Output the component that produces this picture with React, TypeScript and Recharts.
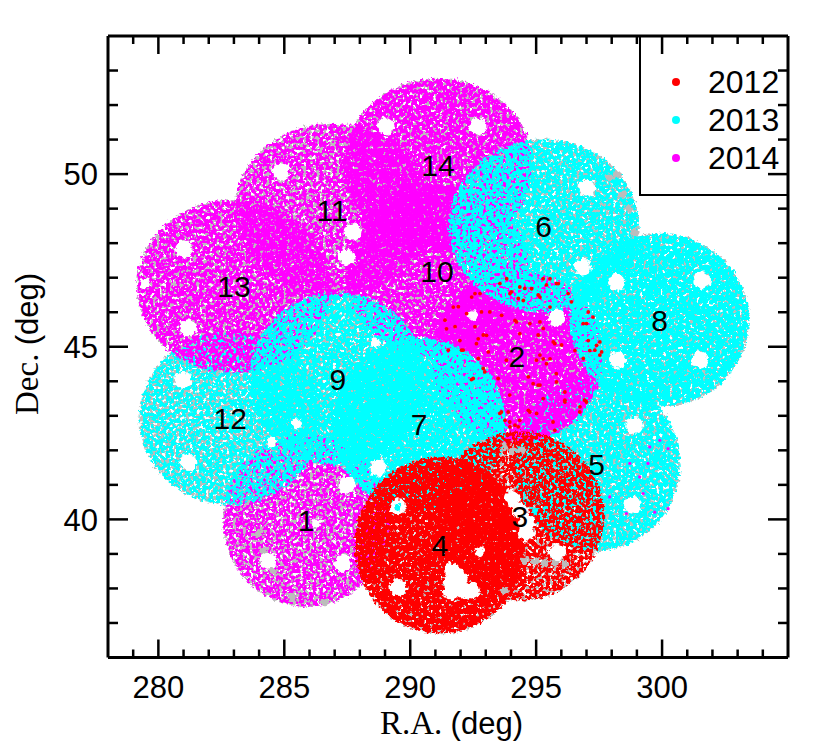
import { Legend, Scatter, ScatterChart, XAxis, YAxis } from "recharts";

const fieldNames = ["5", "1", "12", "2", "10", "11", "13", "14", "9", "7", "6", "8", "4", "3"];
const fieldRa = [297.4, 285.87, 282.85, 294.23, 291.06, 286.9, 283.0, 291.1, 287.13, 290.35, 295.3, 299.9, 291.18, 294.35];
const fieldDec = [41.6, 39.97, 42.93, 44.72, 47.2, 48.96, 46.75, 50.26, 44.06, 42.75, 48.5, 45.77, 39.25, 40.1];
const fieldRadiusRa = [3.3, 3.3, 3.6, 3.4, 3.65, 3.85, 3.85, 3.75, 3.5, 3.45, 3.77, 3.55, 3.38, 3.35];
const fieldRadiusDec = [2.5, 2.5, 2.5, 2.5, 2.5, 2.5, 2.5, 2.5, 2.5, 2.5, 2.5, 2.5, 2.55, 2.45];
const fieldYear = [2013, 2014, 2013, 2014, 2014, 2014, 2014, 2014, 2013, 2013, 2013, 2013, 2012, 2012];

const holes = [
  [289.04, 51.39], [292.69, 51.39], [284.87, 50.06], [287.73, 48.32], [287.49, 47.59],
  [281.02, 47.83], [281.18, 45.54], [297.01, 49.59], [296.85, 47.3], [298.2, 46.87],
  [301.57, 46.93], [298.24, 44.61], [301.5, 44.61], [295.82, 45.83], [280.98, 44.03],
  [281.18, 41.65], [288.72, 41.48], [287.49, 40.99], [284.35, 38.81], [287.33, 38.72],
  [289.51, 38.03], [295.82, 39.04], [298.91, 42.72], [298.83, 40.41],
];
const smallHoles = [
  [279.47, 46.84], [292.49, 45.91], [288.6, 45.1], [285.5, 42.78], [284.51, 42.23],
  [286.3, 39.88], [292.76, 39.04],
];
const largeGaps = [
  [294.07, 40.61], [294.35, 40.26], [294.63, 39.91], [294.63, 39.62],
  [291.66, 38.52], [291.61, 38.17], [291.65, 37.91], [292.05, 37.94], [292.45, 37.94], [291.97, 38.29],
  [289.51, 40.35],
];
const cyanInGaps = [[294.98, 40.26], [289.51, 40.35]];
const greyPatches = [
  [294.55, 38.81], [294.95, 38.78], [295.34, 38.75], [295.74, 38.75], [296.13, 38.72], [293.75, 37.93],
  [293.75, 42.12], [294.05, 41.98], [294.45, 42.02], [297.9, 49.9], [298.4, 49.4], [298.7, 49.0],
  [298.2, 50.0], [298.9, 48.3], [284.0, 39.6], [284.2, 39.1], [284.55, 38.5], [285.3, 37.75], [286.6, 37.6],
];

const red2012 = [
  [293.56, 46.83], [293.83, 46.97], [294.35, 46.73], [294.82, 46.68], [295.28, 46.97], [295.55, 46.97],
  [295.88, 46.83], [296.27, 46.54], [296.4, 46.3], [295.55, 46.15], [295.15, 46.44], [294.49, 46.34],
  [293.96, 46.54], [292.77, 46.54], [292.44, 46.44], [291.71, 46.15], [293.63, 45.91], [294.16, 45.76],
  [294.75, 45.67], [294.35, 45.38], [292.7, 45.23], [293.03, 45.33], [291.44, 45.52], [291.97, 45.18],
  [295.74, 45.09], [295.28, 44.65], [295.55, 44.65], [297.0, 45.67], [297.26, 45.86], [297.07, 45.18],
  [297.4, 45.04], [297.6, 44.85], [297.13, 44.89], [296.54, 44.89], [292.1, 44.9], [292.63, 45.09],
  [292.96, 44.27], [292.43, 44.05], [293.82, 44.61], [295.01, 44.61], [295.41, 44.51], [295.8, 44.22],
  [294.88, 43.93], [295.08, 43.89], [293.95, 43.6], [293.62, 43.11], [293.95, 42.82], [294.29, 42.68],
  [293.76, 42.87], [294.75, 43.11], [295.28, 43.5], [296.14, 43.45], [296.93, 43.45], [296.73, 43.11],
  [295.67, 42.82], [294.62, 42.39],
  [294.02, 46.59], [294.55, 46.69], [295.08, 46.5], [295.41, 46.79], [295.81, 46.83], [294.29, 46.4],
  [292.57, 46.54], [291.91, 46.16], [292.83, 46.01], [293.16, 46.01], [292.24, 45.96], [291.38, 45.77],
  [291.78, 45.58], [292.57, 45.58], [292.9, 45.34], [294.22, 45.72], [295.15, 45.72], [295.28, 45.53],
  [295.08, 45.34], [295.68, 45.14], [296.01, 45.05], [297.07, 46.01], [296.87, 45.67], [297.53, 45.14],
  [297.33, 44.9], [297.53, 44.76], [296.87, 44.66], [292.04, 44.9], [291.51, 44.9], [293.1, 44.85],
  [292.7, 44.66], [292.9, 44.37], [292.5, 44.08], [293.49, 44.08], [294.69, 44.13], [295.15, 44.76],
  [295.15, 43.89], [295.81, 43.98], [296.14, 43.69], [297.0, 43.4], [296.74, 43.26], [296.14, 43.4],
  [295.02, 43.07], [293.56, 43.07], [293.89, 43.11], [294.16, 42.73], [293.96, 42.68], [294.35, 42.87],
  [294.69, 43.16], [295.74, 42.58], [294.55, 42.34], [294.75, 42.29], [293.89, 42.18],
];
const magenta2014 = [
  [298.72, 41.62], [299.11, 41.23], [299.44, 41.62], [299.91, 42.29], [300.24, 42.05], [299.51, 42.1],
  [298.58, 40.17], [299.71, 40.21], [300.24, 40.31], [299.25, 40.75], [297.92, 40.65],
];

const legendYears = [2012, 2013, 2014];
const xTicks = [279, 280, 281, 282, 283, 284, 285, 286, 287, 288, 289, 290, 291, 292, 293, 294, 295, 296, 297, 298, 299, 300, 301, 302, 303, 304];
const yTicks = [37, 38, 39, 40, 41, 42, 43, 44, 45, 46, 47, 48, 49, 50, 51, 52, 53];

const colors: Record<number, string> = { 2012: "#ff0000", 2013: "#00ffff", 2014: "#ff00ff" };

// how much of each field's fill survives the speckle, lower means denser
const speckle: Record<string, number> = {
  "1": 0.43, "2": 0.33, "3": 0.4, "4": 0.3, "5": 0.37, "6": 0.38, "7": 0.32,
  "8": 0.33, "9": 0.38, "10": 0.38, "11": 0.42, "12": 0.42, "13": 0.4, "14": 0.37,
};

const W = 830;
const H = 756;
const LEFT = 108;
const RIGHT = 788;
const TOP = 36;
const BOTTOM = 657.5;
const pxPerRa = (RIGHT - LEFT) / 27;
const pxPerDec = (BOTTOM - TOP) / 18;

const sans = "'Liberation Sans', Arial, sans-serif";
const serif = "'Liberation Serif', 'Times New Roman', serif";

const fields = fieldNames.map((name, i) => ({
  name,
  ra: fieldRa[i],
  dec: fieldDec[i],
  rRa: fieldRadiusRa[i],
  rDec: fieldRadiusDec[i],
  year: fieldYear[i],
}));
const toPoints = (list: number[][]) => list.map(([ra, dec]) => ({ ra, dec }));

function SpeckFilter({ id, seed, cut }: { id: string; seed: number; cut: number }) {
  const k = 14;
  return (
    <filter id={id} x="-8%" y="-8%" width="116%" height="116%" colorInterpolationFilters="sRGB">
      <feTurbulence type="fractalNoise" baseFrequency="0.3" numOctaves={2} seed={seed} result="n" />
      <feDisplacementMap in="SourceGraphic" in2="n" scale={8} xChannelSelector="G" yChannelSelector="B" result="d" />
      <feColorMatrix in="n" type="matrix" values={`0 0 0 0 0  0 0 0 0 0  0 0 0 0 0  ${k} 0 0 0 ${-k * cut}`} result="m" />
      <feComposite in="d" in2="m" operator="in" />
    </filter>
  );
}

const dot = (fill: string, r: number) => (props: any) => <circle cx={props.cx} cy={props.cy} r={r} fill={fill} />;
const roughDot = (fill: string, r: number) => (props: any) => (
  <circle cx={props.cx} cy={props.cy} r={r} fill={fill} filter="url(#rough)" />
);

const footprint = (grey: boolean) => (props: any) => {
  const f = props.payload;
  return (
    <ellipse
      cx={props.cx}
      cy={props.cy}
      rx={f.rRa * pxPerRa}
      ry={f.rDec * pxPerDec}
      fill={grey ? "#bcbcbc" : colors[f.year]}
      filter={`url(#${grey ? "grey" : "field"}-${f.name})`}
    />
  );
};

const fieldLabel = (props: any) => (
  <text x={props.cx} y={props.cy} dy="0.36em" textAnchor="middle" fontFamily={sans} fontSize={30} fill="#000">
    {props.payload.name}
  </text>
);

function BottomTick({ x, payload }: any) {
  const major = payload.value % 5 === 0;
  return (
    <g>
      <line x1={x} x2={x} y1={BOTTOM} y2={BOTTOM - (major ? 18 : 8)} stroke="#000" strokeWidth={2.5} />
      {major && (
        <text x={x} y={698} textAnchor="middle" fontFamily={sans} fontSize={31} fill="#000">
          {payload.value}
        </text>
      )}
    </g>
  );
}
function TopTick({ x, payload }: any) {
  const major = payload.value % 5 === 0;
  return <line x1={x} x2={x} y1={TOP} y2={TOP + (major ? 18 : 8)} stroke="#000" strokeWidth={2.5} />;
}
function LeftTick({ y, payload }: any) {
  const major = payload.value % 5 === 0;
  return (
    <g>
      <line x1={LEFT} x2={LEFT + (major ? 20 : 10)} y1={y} y2={y} stroke="#000" strokeWidth={2.5} />
      {major && (
        <text x={98} y={y} dy="0.36em" textAnchor="end" fontFamily={sans} fontSize={31} fill="#000">
          {payload.value}
        </text>
      )}
    </g>
  );
}
function RightTick({ y, payload }: any) {
  const major = payload.value % 5 === 0;
  return <line x1={RIGHT} x2={RIGHT - (major ? 20 : 10)} y1={y} y2={y} stroke="#000" strokeWidth={2.5} />;
}

function YearLegend() {
  return (
    <div
      style={{
        width: RIGHT - 639,
        height: 196 - TOP,
        boxSizing: "border-box",
        borderLeft: "2.5px solid #000",
        borderBottom: "2.5px solid #000",
        position: "relative",
        fontFamily: sans,
        fontSize: 32,
        color: "#000",
      }}
    >
      {legendYears.map((year, i) => (
        <div key={year} style={{ position: "absolute", left: 0, top: 28 + i * 38, height: 36, lineHeight: "36px" }}>
          <span
            style={{
              position: "absolute",
              left: 31,
              top: 14,
              width: 8,
              height: 8,
              borderRadius: 4,
              background: colors[year],
            }}
          />
          <span style={{ position: "absolute", left: 67 }}>{year}</span>
        </div>
      ))}
    </div>
  );
}

const axisLine = { stroke: "#000", strokeWidth: 3 };

export default function App() {
  return (
    <div style={{ position: "absolute", left: 0, top: 0, width: W, height: H, background: "#fff" }}>
      <svg width={0} height={0} style={{ position: "absolute" }}>
        <defs>
          {fields.map((f, i) => (
            <SpeckFilter key={f.name} id={`field-${f.name}`} seed={i + 3} cut={speckle[f.name]} />
          ))}
          {fields.map((f, i) => (
            <SpeckFilter key={f.name} id={`grey-${f.name}`} seed={i + 40} cut={0.4} />
          ))}
          <filter id="rough" x="-40%" y="-40%" width="180%" height="180%">
            <feTurbulence type="fractalNoise" baseFrequency="0.22" numOctaves={2} seed={7} result="n" />
            <feDisplacementMap in="SourceGraphic" in2="n" scale={7} xChannelSelector="R" yChannelSelector="G" />
          </filter>
        </defs>
      </svg>
      <ScatterChart
        width={W}
        height={H}
        margin={{ top: TOP - 1, right: W - RIGHT - 1, bottom: H - BOTTOM - 1, left: LEFT - 1 }}
      >
        <XAxis
          xAxisId="b"
          type="number"
          dataKey="ra"
          domain={[278, 305]}
          ticks={xTicks}
          interval={0}
          height={1}
          tick={BottomTick}
          tickLine={false}
          axisLine={axisLine}
          allowDataOverflow
          label={{
            content: () => (
              <text x={380} y={734} fontFamily={sans} fontSize={31} fill="#000">
                <tspan fontFamily={serif} fontSize={33}>R.A. </tspan>
                (deg)
              </text>
            ),
          }}
        />
        <XAxis
          xAxisId="t"
          orientation="top"
          type="number"
          dataKey="ra"
          domain={[278, 305]}
          ticks={xTicks}
          interval={0}
          height={1}
          tick={TopTick}
          tickLine={false}
          axisLine={axisLine}
          allowDataOverflow
        />
        <YAxis
          yAxisId="l"
          type="number"
          dataKey="dec"
          domain={[36, 54]}
          ticks={yTicks}
          interval={0}
          width={1}
          tick={LeftTick}
          tickLine={false}
          axisLine={axisLine}
          allowDataOverflow
          label={{
            content: () => (
              <text x={38} y={415} fontFamily={sans} fontSize={31} fill="#000" transform="rotate(-90 38 415)">
                <tspan fontFamily={serif} fontSize={33}>Dec. </tspan>
                (deg)
              </text>
            ),
          }}
        />
        <YAxis
          yAxisId="r"
          orientation="right"
          type="number"
          dataKey="dec"
          domain={[36, 54]}
          ticks={yTicks}
          interval={0}
          width={1}
          tick={RightTick}
          tickLine={false}
          axisLine={axisLine}
          allowDataOverflow
        />
        <Legend
          layout="horizontal"
          verticalAlign="middle"
          align="center"
          content={<YearLegend />}
          wrapperStyle={{ position: "absolute", left: 639, top: TOP, width: RIGHT - 639, height: 160, bottom: "auto", margin: 0 }}
        />
        <Scatter data={fields} xAxisId="b" yAxisId="l" shape={footprint(true)} isAnimationActive={false} />
        <Scatter data={fields} xAxisId="b" yAxisId="l" shape={footprint(false)} isAnimationActive={false} />
        <Scatter data={toPoints(greyPatches)} xAxisId="b" yAxisId="l" shape={roughDot("#bcbcbc", 4)} isAnimationActive={false} />
        <Scatter data={toPoints(magenta2014)} xAxisId="b" yAxisId="l" shape={dot(colors[2014], 1.6)} isAnimationActive={false} />
        <Scatter data={toPoints(holes)} xAxisId="b" yAxisId="l" shape={roughDot("#fff", 8.5)} isAnimationActive={false} />
        <Scatter data={toPoints(smallHoles)} xAxisId="b" yAxisId="l" shape={roughDot("#fff", 5)} isAnimationActive={false} />
        <Scatter data={toPoints(largeGaps)} xAxisId="b" yAxisId="l" shape={roughDot("#fff", 8)} isAnimationActive={false} />
        <Scatter data={toPoints(cyanInGaps)} xAxisId="b" yAxisId="l" shape={roughDot(colors[2013], 3.5)} isAnimationActive={false} />
        <Scatter data={toPoints(red2012)} xAxisId="b" yAxisId="l" shape={dot(colors[2012], 1.9)} isAnimationActive={false} />
        <Scatter data={fields} xAxisId="b" yAxisId="l" shape={fieldLabel} isAnimationActive={false} />
      </ScatterChart>
    </div>
  );
}
